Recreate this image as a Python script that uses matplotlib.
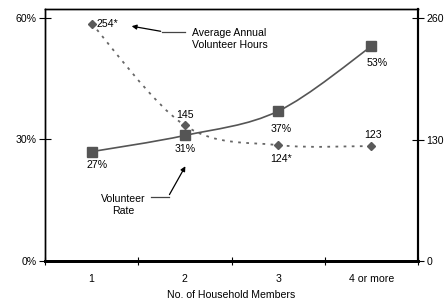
import numpy as np
import matplotlib.pyplot as plt
from matplotlib.path import Path
from matplotlib.patches import PathPatch

plt.rcParams['font.family'] = ['Liberation Sans', 'DejaVu Sans']
plt.rcParams['font.size'] = 7.6

categories = ['1', '2', '3', '4 or more']
volunteer_rate = [27, 31, 37, 53]
annual_hours = [254, 145, 124, 123]
hour_labels = ['254*', '145', '124*', '123']
rate_labels = ['27%', '31%', '37%', '53%']


def smooth_path(xs, ys):
    # Excel-style smoothed line (Catmull-Rom as cubic bezier)
    pts = np.column_stack([xs, ys]).astype(float)
    ext = np.vstack([pts[0], pts, pts[-1]])
    verts = [pts[0]]
    codes = [Path.MOVETO]
    for i in range(len(pts) - 1):
        p0, p1, p2, p3 = ext[i], ext[i + 1], ext[i + 2], ext[i + 3]
        verts += [p1 + (p2 - p0) / 6, p2 - (p3 - p1) / 6, p2]
        codes += [Path.CURVE4] * 3
    return Path(verts, codes)


fig = plt.figure(figsize=(4.48, 3.0), dpi=100)
ax = fig.add_axes([45 / 448, 39 / 300, 373 / 448, 252 / 300])
ax2 = ax.twinx()

x = np.arange(len(categories))
ytop = 60 * 252 / 243
ax.set_xlim(-0.5, 3.5)
ax.set_ylim(0, ytop)
ax2.set_ylim(0, ytop * 260 / 60)

# hours line (dotted, smoothed)
ax2.add_patch(PathPatch(smooth_path(x, annual_hours), fill=False, ec='#666666',
                        lw=1.3, ls=(0, (1.5, 3)), zorder=2))
ax2.plot(x, annual_hours, ls='none', marker='D', ms=4.5, color='#5a5a5a', zorder=3)

# volunteer rate line (solid, smoothed)
ax.add_patch(PathPatch(smooth_path(x, volunteer_rate), fill=False, ec='#555555',
                       lw=1.2, zorder=2))
ax.plot(x, volunteer_rate, ls='none', marker='s', ms=7.5, color='#555555', zorder=3)
ax.set_zorder(ax2.get_zorder() + 1)
ax.patch.set_visible(False)

ax.set_yticks([0, 30, 60])
ax.set_yticklabels(['0%', '30%', '60%'])
ax2.set_yticks([0, 130, 260])
ax.set_xticks([-0.5, 0.5, 1.5, 2.5, 3.5])
ax.set_xticklabels([])
ax.set_xticks(x, minor=True)
ax.set_xticklabels(categories, minor=True)
ax.tick_params(axis='x', which='minor', length=0, pad=9)
ax.tick_params(axis='x', which='major', direction='inout', length=6, width=0.8)
ax.tick_params(axis='y', direction='inout', length=8, width=0.8, pad=2)
ax2.tick_params(axis='y', direction='inout', length=8, width=0.8, pad=2)
ax.set_xlabel('No. of Household Members', labelpad=5)

for a in (ax, ax2):
    for s in a.spines.values():
        s.set_linewidth(1.0)
    a.spines['bottom'].set_linewidth(2.0)
    a.spines['right'].set_linewidth(1.5)

# data labels
ax2.text(x[0] + 0.05, annual_hours[0], hour_labels[0], ha='left', va='center')
ax2.text(x[1], annual_hours[1] + 6, hour_labels[1], ha='center', va='bottom')
ax2.text(x[2] + 0.03, annual_hours[2] - 9, hour_labels[2], ha='center', va='top')
ax2.text(x[3] + 0.02, annual_hours[3] + 7, hour_labels[3], ha='center', va='bottom')
ax.text(x[0] + 0.06, volunteer_rate[0] - 2.0, rate_labels[0], ha='center', va='top')
ax.text(x[1], volunteer_rate[1] - 2.2, rate_labels[1], ha='center', va='top')
ax.text(x[2] + 0.03, volunteer_rate[2] - 3.2, rate_labels[2], ha='center', va='top')
ax.text(x[3] + 0.06, volunteer_rate[3] - 3.0, rate_labels[3], ha='center', va='top')

# callouts
ax.text(1.08, 54.8, 'Average Annual\nVolunteer Hours', ha='left', va='center',
        fontsize=7.6, linespacing=1.3)
ax.plot([0.76, 1.0], [56.6, 56.6], color='#444444', lw=0.9)
ax.annotate('', xy=(0.40, 58.1), xytext=(0.77, 56.6),
            arrowprops=dict(arrowstyle='-|>', color='black', lw=0.9,
                            mutation_scale=7))
ax.text(0.58, 13.9, 'Volunteer\nRate', ha='right', va='center',
        fontsize=7.6, linespacing=1.3, multialignment='center')
ax.plot([0.64, 0.83], [15.8, 15.8], color='#444444', lw=0.9)
ax.annotate('', xy=(1.02, 24.0), xytext=(0.82, 15.8),
            arrowprops=dict(arrowstyle='-|>', color='black', lw=0.9,
                            mutation_scale=7))

fig.savefig('out.png', dpi=100)
